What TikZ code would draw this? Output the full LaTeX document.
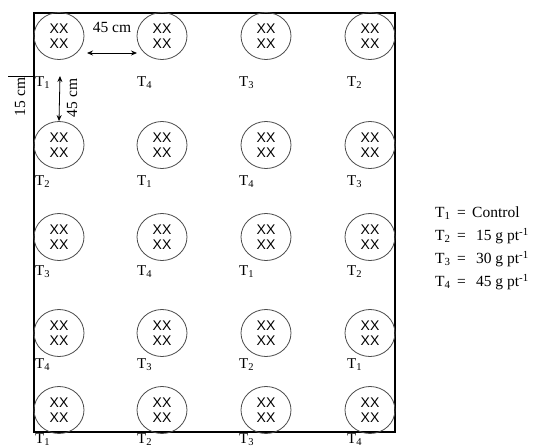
\documentclass[tikz,border=0pt]{standalone}
\usepackage{fontspec}
\setmainfont{Liberation Serif}
\newfontfamily\xxfont{Liberation Sans}
\usetikzlibrary{arrows.meta,shapes.geometric}
\begin{document}
\begin{tikzpicture}[x=1pt,y=-1pt,
  plant/.style={ellipse,draw=black!70,line width=0.8pt,minimum width=50pt,minimum height=47pt,inner sep=0pt,
    align=center,font=\xxfont\fontsize{14}{15.5}\selectfont},
  tlab/.style={anchor=west,inner sep=0pt,font=\fontsize{15}{17}\selectfont},
  dim/.style={{Stealth[length=6pt,width=5pt]}-{Stealth[length=6pt,width=5pt]},line width=0.8pt},
  dimtext/.style={inner sep=0pt,font=\fontsize{15.5}{17}\selectfont},
  legtext/.style={anchor=west,inner sep=0pt,font=\fontsize{15.5}{17}\selectfont}]
\useasboundingbox (0,0) rectangle (540,447);
\draw[line width=1.1pt] (34,13) rectangle (395,432);
\foreach \r/\y/\ly/\la/\lb/\lc/\ld in {1/36/83/1/4/3/2, 2/145/182/2/1/4/3, 3/237/272/3/4/1/2, 4/333/365/4/3/2/1, 5/410/440/1/2/3/4} {
  \node[plant] (p\r a) at (59,\y) {XX\\XX};
  \node[plant] (p\r b) at (162,\y) {XX\\XX};
  \node[plant] (p\r c) at (266,\y) {XX\\XX};
  \node[plant] (p\r d) at (370,\y) {XX\\XX};
  \node[tlab] (t\r a) at (35,\ly) {T\textsubscript{\la}};
  \node[tlab] (t\r b) at (137,\ly) {T\textsubscript{\lb}};
  \node[tlab] (t\r c) at (239,\ly) {T\textsubscript{\lc}};
  \node[tlab] (t\r d) at (347,\ly) {T\textsubscript{\ld}};
}
% horizontal spacing
\coordinate (ha) at (87,53);
\coordinate (hb) at (137,53);
\draw[dim] (ha) -- (hb);
\node[dimtext] (hlab) at (112,27) {45 cm};
% vertical spacing
\coordinate (va) at (60,76);
\draw[dim] (va) -- (p2a.north);
\node[dimtext,rotate=90] (vlab) at (72,98) {45 cm};
% border distance
\coordinate (ba) at (8,76);
\coordinate (bb) at (34,76);
\draw[line width=0.8pt] (ba) -- (bb);
\node[dimtext,rotate=90] (blab) at (20,97) {15 cm};
% legend
\node[legtext] (l1) at (435,213) {T\textsubscript{1} \,=\, Control};
\node[legtext] (l2) at (435,236) {T\textsubscript{2} \,=\, \ 15 g pt\textsuperscript{-1}};
\node[legtext] (l3) at (435,259) {T\textsubscript{3} \,=\, \ 30 g pt\textsuperscript{-1}};
\node[legtext] (l4) at (435,282) {T\textsubscript{4} \,=\, \ 45 g pt\textsuperscript{-1}};
\end{tikzpicture}
\end{document}
